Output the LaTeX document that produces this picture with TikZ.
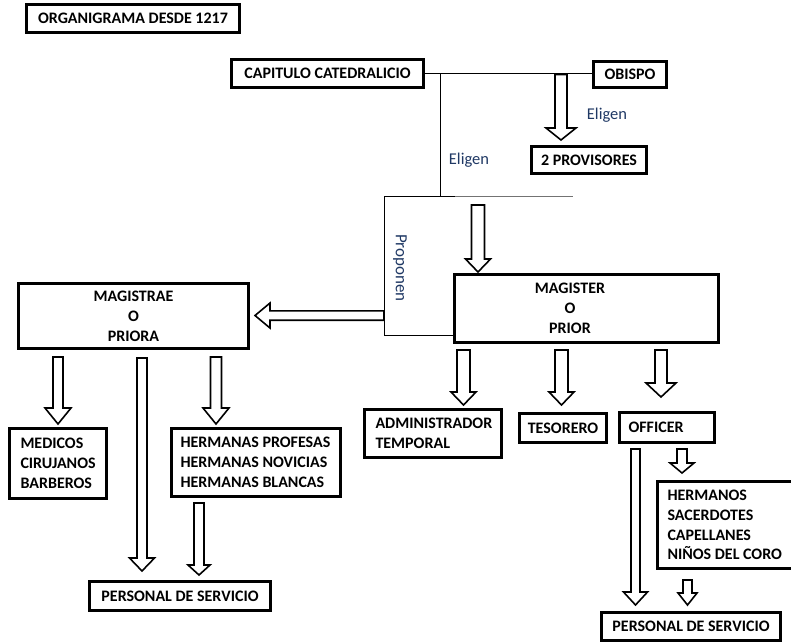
\documentclass[tikz,border=0pt]{standalone}
\usepackage{fontspec}
\setmainfont{Carlito}
\usetikzlibrary{calc}
\definecolor{lbl}{RGB}{31,56,100}
\newcommand\nohyph{\hyphenpenalty=10000\relax\exhyphenpenalty=10000\relax}
\tikzset{
  box/.style={draw=black, line width=3pt, fill=white, inner sep=0pt, align=center,
    font={\bfseries\fontsize{16}{19.8}\selectfont\nohyph}},
  lbox/.style={box, align=flush left, inner xsep=11pt},
  blk/.style={draw=black, line width=1.6pt, fill=white, line join=miter},
  conn/.style={draw=black, line width=0.9pt},
  lbltext/.style={text=lbl, inner sep=0pt, font=\fontsize{16.5}{19}\selectfont}
}
% vertical block arrow: start, tip, half shaft, half head, head length
\newcommand\dnarrow[5]{%
  \path[blk] let \p1=(#1),\p2=(#2) in
    (\x1-#3pt,\y1) -- (\x1+#3pt,\y1) -- (\x1+#3pt,\y2+#5pt) -- (\x1+#4pt,\y2+#5pt)
    -- (\x1,\y2) -- (\x1-#4pt,\y2+#5pt) -- (\x1-#3pt,\y2+#5pt) -- cycle;}
% leftward block arrow
\newcommand\lfarrow[5]{%
  \path[blk] let \p1=(#1),\p2=(#2) in
    (\x1,\y1-#3pt) -- (\x1,\y1+#3pt) -- (\x2+#5pt,\y1+#3pt) -- (\x2+#5pt,\y1+#4pt)
    -- (\x2,\y1) -- (\x2+#5pt,\y1-#4pt) -- (\x2+#5pt,\y1-#3pt) -- cycle;}
\begin{document}
\begin{tikzpicture}[x=1pt,y=-1pt]
\useasboundingbox (0,0) rectangle (791,643);
\clip (0,0) rectangle (791,643);

% ---- top connectors
\coordinate (jA) at (440,73.5);
\coordinate (jB) at (440,196);
\coordinate (jC) at (384,196);
\coordinate (jD) at (455,196);
\coordinate (jE) at (573,196);
\coordinate (jF) at (384,335);
\coordinate (jG) at (454,335);

% ---- boxes
\node[box, minimum width=213pt, minimum height=28pt] (title) at (133,18.5) {ORGANIGRAMA DESDE 1217};
\node[box, minimum width=192pt, minimum height=28pt] (capitulo) at (327.5,73.5) {CAPITULO CATEDRALICIO};
\node[box, minimum width=73pt, minimum height=26pt] (obispo) at (630,74.5) {OBISPO};
\node[box, minimum width=115pt, minimum height=27pt] (prov) at (589,160) {2 PROVISORES};

\draw[conn] (capitulo.east) -- (obispo.west |- capitulo.east);
\draw[conn] (jA) -- (jB);
\draw[conn] (jC) -- (jD);
\draw[draw=black!55, line width=0.9pt] (jD) -- (jE);
\draw[conn] (jC) -- (jF) -- (jG);

\node[box, minimum width=264pt, minimum height=68pt] (magister) at (586.5,308.5) {};
\node[box, draw=none, fill=none] (magistertext) at (570,308.5) {MAGISTER\\O\\PRIOR};
\node[box, minimum width=230pt, minimum height=65pt] (magistrae) at (133.5,316) {MAGISTRAE\\O\\PRIORA};

\node[lbox, inner xsep=11pt, text width=75pt, minimum height=70pt] (medicos) at (58,463.5) {MEDICOS\\CIRUJANOS\\BARBEROS};
\node[lbox, inner xsep=9pt, text width=151pt, minimum height=68pt] (hermanas) at (256,462.5) {HERMANAS PROFESAS\\HERMANAS NOVICIAS\\HERMANAS BLANCAS};
\node[box, minimum width=181pt, minimum height=29pt] (personalL) at (180,596) {PERSONAL DE SERVICIO};

\node[lbox, inner xsep=11pt, text width=115pt, minimum height=48pt] (admin) at (433,433.5) {ADMINISTRADOR\\TEMPORAL};
\node[box, minimum width=87pt, minimum height=29pt] (tesorero) at (563,428) {TESORERO};
\node[lbox, inner xsep=9pt, text width=77pt, minimum height=30pt] (officer) at (667,427.5) {OFFICER};
\node[lbox, inner xsep=10pt, text width=121pt, minimum height=87pt] (hermanos) at (728,525) {HERMANOS\\SACERDOTES\\CAPELLANES\\NIÑOS DEL CORO};
\node[box, minimum width=179pt, minimum height=28pt] (personalR) at (691,626.5) {PERSONAL DE SERVICIO};

% ---- labels
\node[lbltext] (el1) at (607,115) {Eligen};
\node[lbltext] (el2) at (469,160) {Eligen};
\node[lbltext, rotate=-90, font=\fontsize{17}{19}\selectfont] (prop) at (400,268) {Proponen};

% ---- block arrows
\coordinate (a1s) at (561,74.5);   \coordinate (a1t) at (561,140);
\dnarrow{a1s}{a1t}{6}{15}{12}
\coordinate (a2s) at (478,205);    \coordinate (a2t) at (478,272);
\dnarrow{a2s}{a2t}{6.5}{12.5}{13}
\coordinate (a3s) at (384,315.5);  \coordinate (a3t) at (255,315.5);
\lfarrow{a3s}{a3t}{4.7}{12.5}{15}

\coordinate (b1s) at (58,357);     \coordinate (b1t) at (58,424);
\dnarrow{b1s}{b1t}{5}{13}{16}
\coordinate (b2s) at (142,358);    \coordinate (b2t) at (142,571);
\dnarrow{b2s}{b2t}{5}{12.5}{13}
\coordinate (b3s) at (216,357);    \coordinate (b3t) at (216,424);
\dnarrow{b3s}{b3t}{5.5}{13}{16}
\coordinate (b4s) at (199,503);    \coordinate (b4t) at (199,575);
\dnarrow{b4s}{b4t}{5}{11}{10}

\coordinate (c1s) at (463.5,350);  \coordinate (c1t) at (463.5,405);
\dnarrow{c1s}{c1t}{6.5}{12.5}{13}
\coordinate (c2s) at (561.5,350);  \coordinate (c2t) at (561.5,405);
\dnarrow{c2s}{c2t}{6.5}{12.5}{13}
\coordinate (c3s) at (661,350);    \coordinate (c3t) at (661,397);
\dnarrow{c3s}{c3t}{6}{15}{14}

\coordinate (d1s) at (635.5,449);  \coordinate (d1t) at (635.5,605);
\dnarrow{d1s}{d1t}{4.5}{12}{13}
\coordinate (d2s) at (682,449);    \coordinate (d2t) at (682,473);
\dnarrow{d2s}{d2t}{5}{12}{10}
\coordinate (d3s) at (687.5,580);  \coordinate (d3t) at (687.5,605);
\dnarrow{d3s}{d3t}{4.5}{9.5}{12}
\end{tikzpicture}
\end{document}
